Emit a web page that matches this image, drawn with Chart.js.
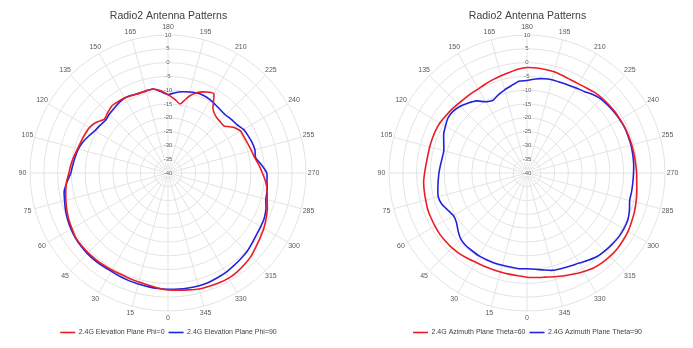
<!DOCTYPE html>
<html>
<head>
<meta charset="utf-8">
<title>Radio2 Antenna Patterns</title>
<script src="https://cdn.jsdelivr.net/npm/chart.js@4.4.1/dist/chart.umd.min.js"></script>
<style>
  html, body { margin: 0; padding: 0; background: #ffffff; overflow: hidden; }
  body { width: 693px; height: 348px; position: relative; }
  .panel { position: absolute; top: 0; }
  #leftPanel { left: 0; }
  #rightPanel { left: 359px; }
</style>
</head>
<body>
<div class="panel" id="leftPanel"><canvas id="elevation" width="337" height="348"></canvas></div>
<div class="panel" id="rightPanel"><canvas id="azimuth" width="337" height="348"></canvas></div>
<script>
// Measurement angles in degrees (5 degree steps)
const angles = [
  0, 5, 10, 15, 20, 25, 30, 35, 40, 45, 50, 55,
  60, 65, 70, 75, 80, 85, 90, 95, 100, 105, 110, 115,
  120, 125, 130, 135, 140, 145, 150, 155, 160, 165, 170, 175,
  180, 185, 190, 195, 200, 205, 210, 215, 220, 225, 230, 235,
  240, 245, 250, 255, 260, 265, 270, 275, 280, 285, 290, 295,
  300, 305, 310, 315, 320, 325, 330, 335, 340, 345, 350, 355
];

// Gain (dB) at each angle above
const elevPhi0 = [
  2.4, 1.8, 1.2, 0.9, 0.7, 0.5, 0.6, 0.7, 0.8, 0.9, 0.9, 0.8,
  0.2, -0.3, -1.0, -1.7, -2.4, -3.1, -4.1, -4.7, -5.4, -6.1, -6.5, -6.8,
  -7.1, -8.1, -9.8, -9.1, -8.3, -8.4, -8.6, -9.0, -9.3, -9.2, -9.1, -10.1,
  -11.6, -13.1, -14.6, -11.4, -9.0, -7.6, -6.8, -11.6, -13.1, -13.5, -13.5, -11.1,
  -9.6, -9.5, -9.2, -8.7, -8.1, -6.9, -5.8, -4.5, -3.5, -2.8, -1.7, -0.8,
  0.1, 0.8, 1.6, 2.6, 3.2, 3.7, 4.0, 3.9, 3.7, 3.5, 3.0, 2.6
];
const elevPhi90 = [
  2.1, 2.0, 1.8, 1.6, 1.5, 1.3, 1.1, 1.2, 1.3, 1.3, 1.2, 1.0,
  0.6, 0.1, -0.5, -1.2, -1.8, -3.3, -4.8, -5.4, -5.9, -6.4, -7.2, -8.3,
  -9.4, -9.9, -10.4, -9.9, -9.5, -9.0, -8.6, -8.9, -9.3, -9.2, -9.1, -10.4,
  -11.6, -10.8, -10.1, -9.6, -9.1, -9.1, -9.4, -9.9, -10.3, -10.4, -9.9, -9.5,
  -8.4, -8.0, -7.6, -7.4, -7.8, -6.0, -4.2, -4.0, -3.5, -3.3, -2.2, -1.5,
  -1.2, -0.9, -0.3, 0.4, 0.8, 1.2, 1.7, 2.0, 2.3, 2.4, 2.3, 2.2
];
const azimTheta60 = [
  -2.2, -2.6, -2.8, -2.9, -2.9, -2.8, -2.7, -2.3, -1.9, -1.6, -1.5, -1.4,
  -1.5, -1.6, -1.7, -2.0, -2.2, -2.4, -2.9, -3.3, -3.5, -3.5, -3.5, -3.5,
  -3.6, -4.0, -4.3, -4.6, -4.8, -4.8, -4.8, -4.4, -4.0, -3.5, -3.0, -2.3,
  -1.8, -1.8, -1.9, -2.0, -2.4, -2.7, -2.7, -2.4, -1.9, -1.6, -1.4, -1.2,
  -1.1, -0.9, -0.8, -0.7, -0.6, -0.5, -0.3, -0.1, 0.4, 0.9, 1.4, 1.8,
  2.3, 2.5, 2.7, 2.6, 2.4, 2.0, 1.2, 0.4, -0.4, -1.1, -1.7, -2.0
];
const azimTheta90 = [
  -5.3, -5.2, -5.4, -5.4, -5.3, -5.3, -5.3, -5.5, -5.6, -6.1, -7.4, -8.8,
  -9.2, -8.3, -7.1, -6.7, -7.2, -7.7, -8.1, -8.5, -8.8, -8.8, -7.9, -6.7,
  -5.9, -5.1, -5.1, -5.8, -6.9, -8.1, -10.2, -10.9, -9.8, -8.8, -7.8, -6.6,
  -6.5, -5.8, -5.3, -5.0, -5.0, -4.8, -4.4, -3.9, -2.9, -2.1, -1.8, -1.5,
  -1.2, -1.0, -1.0, -1.0, -1.1, -1.2, -1.4, -1.5, -1.5, -1.5, -0.5, 0.3,
  0.5, 0.5, 0.2, -0.1, -0.5, -1.4, -2.3, -2.8, -3.2, -3.5, -4.3, -5.0
];

// Radial axis range and step (dB)
const gainMin = -40;
const gainMax = 10;
const gainStep = 5;

const titleText = 'Radio2 Antenna Patterns';
const FONT = "'Liberation Sans', Arial, sans-serif";
const LABEL_EVERY = 15; // degrees between labelled spokes

// The radar starts at the top and runs clockwise, so 180 goes first.
const startIndex = angles.indexOf(180);
const order = angles.map((_, i) => (i + startIndex) % angles.length);
const spokeLabels = order.map(i => String(angles[i]));
const arrange = series => order.map(i => series[i]);
const isLabelled = label => Number(label) % LABEL_EVERY === 0;

// Angle labels centred on their spoke, just outside the outer ring.
const centredSpokeLabels = {
  id: 'centredSpokeLabels',
  afterDraw(chart, args, opts) {
    const scale = chart.scales.r;
    const ctx = chart.ctx;
    ctx.save();
    ctx.font = `${opts.size}px ${FONT}`;
    ctx.fillStyle = opts.color;
    ctx.textAlign = 'center';
    ctx.textBaseline = 'middle';
    chart.data.labels.forEach((label, i) => {
      if (!isLabelled(label)) return;
      const p = scale.getPointPosition(i, scale.drawingArea + opts.gap);
      ctx.fillText(label, p.x, p.y);
    });
    ctx.restore();
  }
};

function buildChart(canvasId, seriesList) {
  return new Chart(document.getElementById(canvasId), {
    type: 'radar',
    plugins: [centredSpokeLabels],
    data: {
      labels: spokeLabels,
      datasets: seriesList.map(s => ({
        label: s.name,
        data: arrange(s.values),
        borderColor: s.color,
        backgroundColor: s.color,
        borderWidth: 1.6,
        pointRadius: 0,
        pointHoverRadius: 0,
        fill: false,
        tension: 0.15
      }))
    },
    options: {
      responsive: false,
      animation: false,
      devicePixelRatio: 1,
      layout: { padding: { top: 0, bottom: 2, left: 0, right: 0 } },
      plugins: {
        title: {
          display: true,
          text: titleText,
          color: '#404040',
          font: { family: FONT, size: 10.5, weight: 'normal', lineHeight: 1 },
          padding: { top: 10.6, bottom: 10.3 }
        },
        legend: {
          position: 'bottom',
          // empty spacer title keeps the legend row clear of the angle labels
          title: {
            display: true,
            text: '',
            font: { family: FONT, size: 1, lineHeight: 1 },
            padding: { top: 9.1, bottom: 0 }
          },
          labels: {
            usePointStyle: true,
            pointStyle: 'line',
            pointStyleWidth: 15,
            color: '#404040',
            font: { family: FONT, size: 7 },
            padding: 4
          }
        },
        tooltip: { enabled: false },
        centredSpokeLabels: { size: 7, color: '#595959', gap: 7.5 }
      },
      scales: {
        r: {
          min: gainMin,
          max: gainMax,
          startAngle: 0,
          ticks: {
            stepSize: gainStep,
            color: '#595959',
            font: { family: FONT, size: 6 },
            backdropColor: 'rgba(255,255,255,0.8)',
            backdropPadding: 0
          },
          grid: { color: '#e3e3e3', lineWidth: 1, circular: true },
          angleLines: {
            color: ctx => (ctx.index % 3 === 0 ? '#e3e3e3' : 'rgba(0,0,0,0)'),
            lineWidth: 1
          },
          pointLabels: {
            display: false,
            callback: label => (isLabelled(label) ? label : '')
          }
        }
      }
    }
  });
}

buildChart('elevation', [
  { name: '2.4G Elevation Plane Phi=0', values: elevPhi0, color: '#ec1c24' },
  { name: '2.4G Elevation Plane Phi=90', values: elevPhi90, color: '#2222dd' }
]);
buildChart('azimuth', [
  { name: '2.4G Azimuth Plane Theta=60', values: azimTheta60, color: '#ec1c24' },
  { name: '2.4G Azimuth Plane Theta=90', values: azimTheta90, color: '#2222dd' }
]);
</script>
</body>
</html>
